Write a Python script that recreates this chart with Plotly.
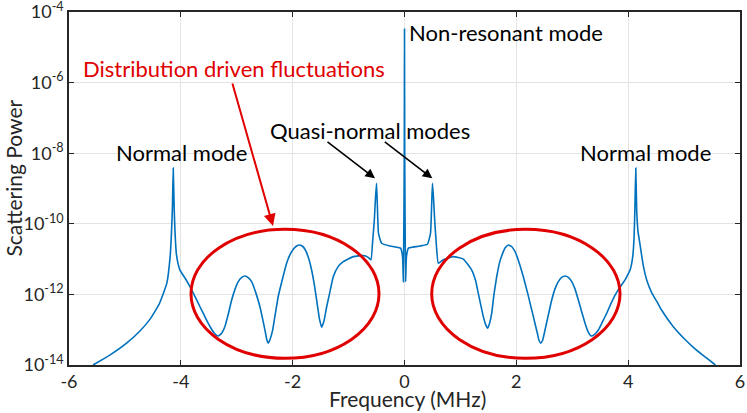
import plotly.graph_objects as go

# Frequency (MHz) and log10 of scattering power
freq = [
    -5.57, -5.27, -4.97, -4.74, -4.55, -4.38, -4.25, -4.19, -4.165, -4.15, -4.136, -4.12, -4.106, -4.08,
    -4.047, -4.016, -3.92, -3.837, -3.75, -3.658, -3.57, -3.479, -3.40, -3.331, -3.27, -3.211, -3.15,
    -3.091, -3.03, -2.973, -2.91, -2.853, -2.79, -2.734, -2.66, -2.585, -2.53, -2.496, -2.46, -2.436,
    -2.41, -2.358, -2.31, -2.258, -2.18, -2.108, -2.05, -1.989, -1.93, -1.882, -1.83, -1.78, -1.72,
    -1.661, -1.61, -1.571, -1.52, -1.481, -1.44, -1.392, -1.33, -1.274, -1.19, -1.095, -0.916, -0.737,
    -0.65, -0.60, -0.57, -0.54, -0.52, -0.50, -0.485, -0.465, -0.41, -0.259, -0.15, -0.07, -0.035,
    -0.02, -0.004, 0.0, 0.004, 0.02, 0.035, 0.07, 0.15, 0.277, 0.41, 0.465, 0.485, 0.50, 0.52, 0.54,
    0.57, 0.605, 0.694, 0.873, 1.052, 1.202, 1.27, 1.32, 1.41, 1.45, 1.488, 1.525, 1.56, 1.60, 1.649,
    1.70, 1.757, 1.80, 1.857, 1.92, 1.977, 2.05, 2.125, 2.20, 2.275, 2.376, 2.405, 2.436, 2.47, 2.513,
    2.57, 2.633, 2.69, 2.751, 2.81, 2.871, 2.93, 2.991, 3.05, 3.109, 3.17, 3.229, 3.28, 3.336, 3.40,
    3.467, 3.54, 3.617, 3.69, 3.766, 3.86, 3.945, 4.00, 4.034, 4.08, 4.105, 4.12, 4.136, 4.152, 4.175,
    4.213, 4.272, 4.333, 4.42, 4.512, 4.60, 4.80, 5.00, 5.20, 5.40, 5.56,
]
log_power = [
    -14.0, -13.72, -13.38, -13.05, -12.70, -12.25, -11.68, -10.9, -10.17, -9.5, -8.42, -9.5, -10.17, -10.85,
    -11.15, -11.31, -11.55, -11.78, -12.05, -12.35, -12.63, -12.91, -13.10, -13.18, -13.10, -12.91, -12.55,
    -12.16, -11.85, -11.64, -11.52, -11.48, -11.53, -11.64, -11.95, -12.35, -12.75, -13.01, -13.3, -13.38,
    -13.3, -13.01, -12.55, -12.06, -11.55, -11.12, -10.88, -10.72, -10.63, -10.60, -10.63, -10.72, -10.95,
    -11.31, -11.75, -12.16, -12.70, -12.93, -12.75, -12.35, -11.9, -11.50, -11.22, -11.07, -10.93, -10.90,
    -10.95, -11.02, -10.5, -9.9, -9.3, -8.85, -9.5, -10.27, -10.55, -10.63, -10.66, -10.69, -10.93,
    -11.64, -8.0, -4.48, -8.0, -11.64, -10.93, -10.69, -10.66, -10.63, -10.58, -10.27, -9.5, -8.85, -9.3, -9.9,
    -10.6, -11.12, -11.02, -10.93, -11.00, -11.31, -11.6, -11.97, -12.63, -12.85, -12.96, -12.8, -12.53, -12.0, -11.50,
    -11.1, -10.83, -10.68, -10.60, -10.65, -10.79, -11.1, -11.50, -11.95, -12.44, -13.10, -13.3, -13.38, -13.3, -13.01,
    -12.6, -12.16, -11.85, -11.64, -11.52, -11.48, -11.52, -11.64, -11.85, -12.16, -12.5, -12.82, -13.05, -13.18, -13.13,
    -13.01, -12.78, -12.53, -12.27, -12.02, -11.78, -11.59, -11.42, -11.31, -10.95, -10.4, -9.6, -8.42, -9.6, -10.2,
    -10.6, -11.2, -11.6, -11.95, -12.2, -12.45, -12.9, -13.25, -13.55, -13.8, -14.0,
]
power = [10 ** v for v in log_power]

x_ticks = [-6, -4, -2, 0, 2, 4, 6]
x_tick_text = ["-6", "-4", "-2", "0", "2", "4", "6"]
y_exponents = [-14, -12, -10, -8, -6, -4]
y_ticks = [10 ** e for e in y_exponents]
y_tick_text = [f"10<sup>{e}</sup>" for e in y_exponents]
x_title = "Frequency (MHz)"
y_title = "Scattering Power"

LINE = "#0072BD"
RED = "#E00000"
AXC = "#262626"
FONT = "Lato"

fig = go.Figure()
fig.add_trace(go.Scatter(x=freq, y=power, mode="lines",
                         line=dict(color=LINE, width=1.6, shape="spline", smoothing=0.4),
                         hoverinfo="skip"))

axis_common = dict(showline=True, linecolor=AXC, linewidth=1.5, mirror="ticks",
                   ticks="inside", ticklen=5, tickwidth=1, tickcolor=AXC,
                   showgrid=True, gridcolor="#e3e3e3", gridwidth=1, zeroline=False,
                   automargin=False, ticklabeloverflow="allow",
                   tickfont=dict(family=FONT, size=18, color=AXC))

fig.update_xaxes(range=[-6, 6], tickvals=x_ticks, ticktext=x_tick_text, **axis_common)
fig.update_yaxes(type="log", range=[-14, -4], tickvals=y_ticks, ticktext=y_tick_text, **axis_common)

W, H = 747, 413
L, R, T, B = 69, 7, 12, 48
pw, ph = W - L - R, H - T - B


def px(xp):
    return (xp - L) / pw


def py(yp):
    return (H - B - yp) / ph


# axis titles (placed to match the reference exactly)
fig.add_annotation(x=px(408), y=py(398), xref="paper", yref="paper", text=x_title, showarrow=False,
                   xanchor="center", yanchor="middle", font=dict(family=FONT, size=21, color=AXC))
fig.add_annotation(x=px(13), y=py(178.5), xref="paper", yref="paper", text=y_title, showarrow=False,
                   textangle=-90, xanchor="center", yanchor="middle",
                   font=dict(family=FONT, size=21, color=AXC))

labels = [
    ("Non-resonant mode", 506, 32, "black"),
    ("Distribution driven fluctuations", 234, 68.5, RED),
    ("Quasi-normal modes", 369.5, 130, "black"),
    ("Normal mode", 181.7, 152.5, "black"),
    ("Normal mode", 645.3, 152.5, "black"),
]
for text, xx, yy, col in labels:
    fig.add_annotation(x=px(xx), y=py(yy), xref="paper", yref="paper", text=text, showarrow=False,
                       xanchor="center", yanchor="middle", font=dict(family=FONT, size=22, color=col))

arrows = [
    ((326, 140.7), (375, 178.3), "black", 1.6),
    ((383.3, 140.7), (432.3, 178.3), "black", 1.6),
    ((232, 82), (273, 226), RED, 2),
]
for (tx, ty), (hx, hy), col, wdt in arrows:
    fig.add_annotation(x=px(hx), y=py(hy), xref="paper", yref="paper", text="",
                       showarrow=True, ax=tx - hx, ay=ty - hy, axref="pixel", ayref="pixel",
                       arrowhead=2, arrowsize=1.2, arrowwidth=wdt, arrowcolor=col, standoff=0)

for x0, x1 in [(191, 379), (431.7, 620)]:
    fig.add_shape(type="circle", xref="paper", yref="paper",
                  x0=px(x0), x1=px(x1), y0=py(358.3), y1=py(229.3),
                  line=dict(color=RED, width=3))

fig.update_layout(width=W, height=H, margin=dict(l=L, r=R, t=T, b=B),
                  paper_bgcolor="white", plot_bgcolor="white", showlegend=False,
                  font=dict(family=FONT, color="black"))

fig.write_html("out.html", config={"displayModeBar": False},
               post_script="document.body.style.margin='0';document.body.style.overflow='hidden';")
